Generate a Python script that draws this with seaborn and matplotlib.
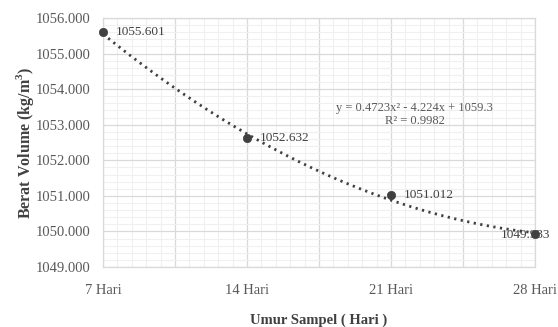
import numpy as np
import pandas as pd
import matplotlib
matplotlib.use("Agg")
import matplotlib.pyplot as plt
import seaborn as sns
from matplotlib.ticker import MultipleLocator, FixedLocator, FormatStrFormatter

# Data
umur_labels = ["7 Hari", "14 Hari", "21 Hari", "28 Hari"]
umur_pos = [1, 2, 3, 4]
berat_volume = [1055.601, 1052.632, 1051.012, 1049.933]
# Polynomial trendline (order 2) coefficients: a*x^2 + b*x + c
trend_coef = [0.4723, -4.224, 1059.3]
r_squared = 0.9982

sns.set_theme(style="white")
plt.rcParams["font.family"] = ["Liberation Serif", "DejaVu Serif"]
plt.rcParams["mathtext.fontset"] = "custom"
plt.rcParams["mathtext.rm"] = "Liberation Serif"
plt.rcParams["mathtext.bf"] = "Liberation Serif:bold"

fig = plt.figure(figsize=(5.58, 3.27), dpi=100)
ax = fig.add_axes([0.1846, 0.1835, 0.7742, 0.7615])

df = pd.DataFrame({"x": umur_pos, "y": berat_volume})
xs = np.linspace(umur_pos[0], umur_pos[-1], 300)
trend = pd.DataFrame({"x": xs, "y": np.polyval(trend_coef, xs)})

sns.lineplot(data=trend, x="x", y="y", ax=ax, color="#404040",
             linewidth=2.0, linestyle=(0, (0.8, 1.6)), zorder=3)
sns.scatterplot(data=df, x="x", y="y", ax=ax, color="#404040", s=36,
                edgecolor="#404040", linewidth=0.5, zorder=4, clip_on=False)

# Data labels
offsets = [(9, 0), (9, 0), (9, 0), (-7, -1)]
aligns = ["left", "left", "left", "center"]
for xv, yv, off, ha in zip(umur_pos, berat_volume, offsets, aligns):
    ax.annotate(f"{yv:.3f}", (xv, yv), xytext=off, textcoords="offset points",
                ha=ha, va="center", fontsize=9.5, color="#404040", zorder=5)

# Trendline equation
ax.text(0.722, 0.613,
        f"y = {trend_coef[0]}x² - {abs(trend_coef[1])}x + {trend_coef[2]}\n"
        f"R² = {r_squared}",
        transform=ax.transAxes, ha="center", va="center",
        fontsize=9.0, color="#595959", linespacing=1.15)

ax.set_xlim(1, 4)
ax.set_ylim(1049, 1056)
ax.yaxis.set_major_locator(MultipleLocator(1))
ax.yaxis.set_major_formatter(FormatStrFormatter("%.3f"))
ax.yaxis.set_minor_locator(MultipleLocator(0.2))

major_x = np.arange(1, 4.01, 0.5)
ax.xaxis.set_major_locator(FixedLocator(major_x))
ax.set_xticklabels([umur_labels[int(v) - 1] if float(v).is_integer() else ""
                    for v in major_x])
ax.xaxis.set_minor_locator(MultipleLocator(0.1))

ax.grid(which="major", color="#d9d9d9", linewidth=0.9)
ax.grid(which="minor", color="#f0f0f0", linewidth=0.8)
ax.set_axisbelow(True)
for s in ax.spines.values():
    s.set_color("#d9d9d9")
    s.set_linewidth(0.9)

ax.tick_params(axis="both", which="both", length=0, labelsize=10.5,
               labelcolor="#595959")
ax.tick_params(axis="y", pad=9)
ax.tick_params(axis="x", pad=12)

ax.set_xlabel("Umur Sampel ( Hari )", fontsize=10.5, fontweight="bold",
              color="#404040", labelpad=12)
ax.set_ylabel(r"Berat Volume (kg/m$^{\mathbf{3}}$)", fontsize=11.5,
              fontweight="bold", color="#404040", labelpad=0)

fig.savefig("out.png", dpi=100, facecolor="white")
